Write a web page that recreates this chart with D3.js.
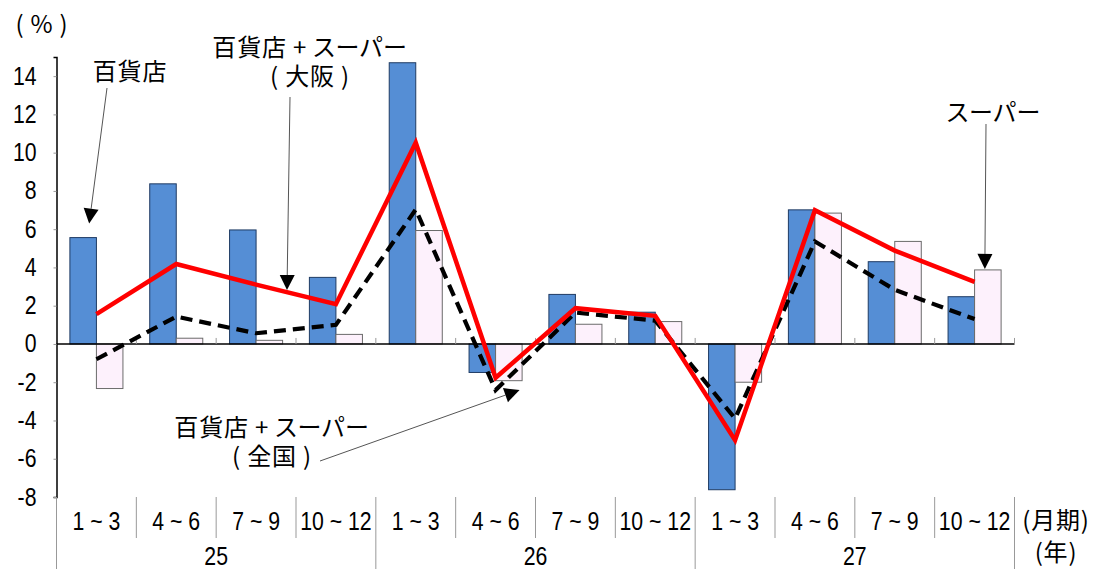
<!DOCTYPE html>
<html>
<head>
<meta charset="utf-8">
<script src="https://cdnjs.cloudflare.com/ajax/libs/d3/7.8.5/d3.min.js"></script>
<style>
  body { margin: 0; padding: 0; background: #fff; }
  .num { font-family: "Liberation Sans", Arial, sans-serif; font-size: 25px; fill: #000; }
  .jp { font-family: "Noto Sans CJK JP", sans-serif; font-size: 24px; fill: #000; font-feature-settings: "palt"; letter-spacing: 0.8px; }
</style>
</head>
<body>
<svg width="1094" height="569"></svg>
<script>
// quarters and years
const quarters = ["1 ~ 3", "4 ~ 6", "7 ~ 9", "10 ~ 12"];
const years = ["25", "26", "27"];
// 百貨店 (bars, blue)
const dept = [5.56, 8.37, 5.96, 3.48, 14.7, -1.49, 2.59, 1.66, -7.62, 7.01, 4.3, 2.47];
// スーパー (bars, pale pink)
const superm = [-2.33, 0.3, 0.19, 0.5, 5.93, -1.92, 1.03, 1.17, -2.0, 6.84, 5.36, 3.87];
// 百貨店+スーパー（大阪） red line
const osaka = [1.56, 4.18, 3.1, 2.08, 10.52, -1.77, 1.87, 1.47, -5.03, 6.99, 4.88, 3.25];
// 百貨店+スーパー（全国） dashed line
const zenkoku = [-0.8, 1.43, 0.56, 1.0, 7.03, -2.41, 1.64, 1.22, -3.9, 5.36, 2.83, 1.3];

const cats = d3.range(12);
const svg = d3.select("svg");

const plotL = 56.5, plotR = 1014.5, plotT = 57, plotB = 497;
const narrow = 0.85;   // squeeze numbers like an Arial Narrow face

const x = d3.scaleBand().domain(cats).range([plotL, plotR]).padding(0);
const xs = d3.scaleBand().domain(["dept", "super"]).range([0, x.bandwidth()])
  .paddingInner(0).paddingOuter(0.505);
const y = d3.scaleLinear().domain([-8, 15]).range([plotB, plotT]);
const cx = i => x(i) + x.bandwidth() / 2;

// bars
svg.append("g").selectAll("rect")
  .data(dept).join("rect")
  .attr("x", (d, i) => x(i) + xs("dept"))
  .attr("width", xs.bandwidth())
  .attr("y", d => y(Math.max(0, d)))
  .attr("height", d => Math.abs(y(d) - y(0)))
  .attr("fill", "#558ed5")
  .attr("stroke", "#1f3b63")
  .attr("stroke-width", 1);

svg.append("g").selectAll("rect")
  .data(superm).join("rect")
  .attr("x", (d, i) => x(i) + xs("super"))
  .attr("width", xs.bandwidth())
  .attr("y", d => y(Math.max(0, d)))
  .attr("height", d => Math.abs(y(d) - y(0)))
  .attr("fill", "#fdf1fc")
  .attr("stroke", "#6b6b6b")
  .attr("stroke-width", 1);

// zero line + small ticks
svg.append("line")
  .attr("x1", plotL).attr("x2", plotR)
  .attr("y1", y(0)).attr("y2", y(0))
  .attr("stroke", "#000").attr("stroke-width", 1.5);
svg.append("g").selectAll("line")
  .data(d3.range(1, 13)).join("line")
  .attr("x1", i => plotL + i * x.step()).attr("x2", i => plotL + i * x.step())
  .attr("y1", y(0) - 6).attr("y2", y(0))
  .attr("stroke", "#999");

// y axis
const yAxis = svg.append("g")
  .attr("transform", "translate(" + plotL + ",0)")
  .call(d3.axisLeft(y).tickValues(d3.range(-8, 15, 2)).tickSize(3).tickPadding(18)
    .tickFormat(d => String(d)));
yAxis.select(".domain").attr("stroke", "#000").attr("stroke-width", 1.5);
yAxis.selectAll(".tick line").attr("stroke", "#999");
yAxis.attr("font-size", null).attr("font-family", null);
yAxis.selectAll("text").attr("class", "num")
  .attr("x", -20 / narrow)
  .attr("transform", "scale(" + narrow + ",1)");

// lines
const line = d3.line().x((d, i) => cx(i)).y(d => y(d));
svg.append("path")
  .datum(zenkoku)
  .attr("d", line)
  .attr("fill", "none")
  .attr("stroke", "#000")
  .attr("stroke-width", 4.2)
  .attr("stroke-dasharray", "12,7");
svg.append("path")
  .datum(osaka)
  .attr("d", line)
  .attr("fill", "none")
  .attr("stroke", "#ff0000")
  .attr("stroke-width", 4.5)
  .attr("stroke-linejoin", "miter");

// category axis (two levels)
svg.append("g").selectAll("line")
  .data(d3.range(0, 13)).join("line")
  .attr("x1", i => plotL + i * x.step()).attr("x2", i => plotL + i * x.step())
  .attr("y1", plotB)
  .attr("y2", i => i % 4 === 0 ? 569 : 538)
  .attr("stroke", "#999").attr("stroke-width", 1);

function numText(g, xp, yp, t) {
  g.append("text").attr("class", "num")
    .attr("transform", "translate(" + xp + "," + yp + ") scale(" + narrow + ",1)")
    .attr("dy", "0.35em")
    .attr("text-anchor", "middle")
    .text(t);
}
const qg = svg.append("g");
cats.forEach(i => numText(qg, cx(i), 521, quarters[i % 4]));
const yg = svg.append("g");
years.forEach((d, j) => numText(yg, plotL + (j * 4 + 2) * x.step(), 556, d));

svg.append("text").attr("class", "jp").attr("x", 1056).attr("y", 521).attr("dy", "0.35em")
  .attr("text-anchor", "middle").text("(月期)");
svg.append("text").attr("class", "jp").attr("x", 1056).attr("y", 553).attr("dy", "0.35em")
  .attr("text-anchor", "middle").text("(年)");
svg.append("text").attr("class", "jp").attr("x", 42).attr("y", 25).attr("dy", "0.35em")
  .attr("text-anchor", "middle").text("( % )");

// annotations
function arrow(x1, y1, x2, y2) {
  const a = Math.atan2(y2 - y1, x2 - x1), L = 15, w = 7.5;
  const bx = x2 - L * Math.cos(a), by = y2 - L * Math.sin(a);
  svg.append("line").attr("x1", x1).attr("y1", y1).attr("x2", bx).attr("y2", by)
    .attr("stroke", "#555").attr("stroke-width", 1);
  const p = [[x2, y2],
    [bx + w * Math.sin(a), by - w * Math.cos(a)],
    [bx - w * Math.sin(a), by + w * Math.cos(a)]];
  svg.append("polygon").attr("points", p.map(d => d.join(",")).join(" ")).attr("fill", "#000");
}
function label(lines, xc, yc) {
  lines.forEach((t, k) => {
    svg.append("text").attr("class", "jp").attr("x", xc).attr("y", yc + k * 29)
      .attr("dy", "0.35em").attr("text-anchor", "middle").text(t);
  });
}

label(["百貨店"], 130, 72);
arrow(107, 88, x(0) + xs("dept") + xs.bandwidth() / 2 + 6, y(dept[0]) - 14);

label(["百貨店 + スーパー", "(  大阪  )"], 310, 48);
arrow(290, 97, 287, 290);

label(["スーパー"], 994, 113);
arrow(986, 124, x(11) + xs("super") + xs.bandwidth() / 2 - 3, y(superm[11]) - 1);

label(["百貨店 + スーパー", "(  全国  )"], 272, 428);
arrow(320, 461, cx(5) + 24, y(zenkoku[5]));
</script>
</body>
</html>
